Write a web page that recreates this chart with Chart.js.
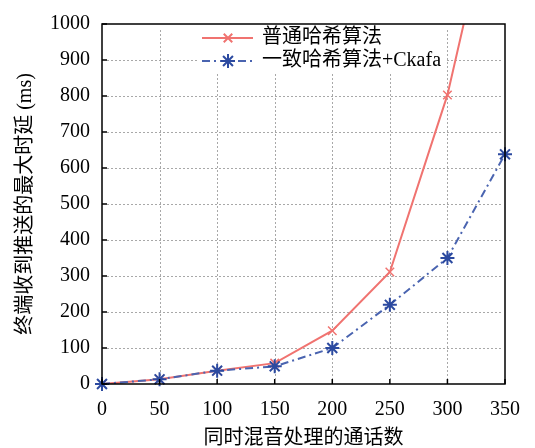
<!DOCTYPE html>
<html>
<head>
<meta charset="utf-8">
<script src="https://cdn.jsdelivr.net/npm/chart.js@4"></script>
<style>
  html, body { margin: 0; padding: 0; background: #fff; }
  #wrap { width: 535px; height: 448px; }
</style>
</head>
<body>
<div id="wrap"><canvas id="delayChart"></canvas></div>
<script>
const calls = [0, 50, 100, 150, 200, 250, 300, 350];
const plainHash = [0, 13, 37, 58, 148, 311, 803, 1500];
const consistentHash = [0, 13, 37, 49, 100, 220, 350, 638];
const seriesNames = ['普通哈希算法', '一致哈希算法+Ckafa'];
const xTitle = '同时混音处理的通话数';
const yTitle = '终端收到推送的最大时延 (ms)';

const FONT = "'Liberation Serif', 'Noto Sans CJK SC', serif";
const RED = '#f07370';
const BLUE = '#4a64b0';
const STAR = '#2c4aa0';

function toPoints(values) {
    return values.map((v, i) => ({ x: calls[i], y: v }));
}

// dotted grid behind the lines
const gridPlugin = {
    id: 'dotGrid',
    beforeDatasetsDraw(chart) {
        const ctx = chart.ctx;
        const a = chart.chartArea;
        const xs = chart.scales.x, ys = chart.scales.y;
        ctx.save();
        ctx.strokeStyle = '#a8a8a8';
        ctx.lineWidth = 1;
        ctx.setLineDash([2, 2]);
        xs.ticks.forEach(t => {
            const px = Math.round(xs.getPixelForValue(t.value)) + 0.5;
            if (px <= a.left + 2 || px >= a.right - 2) return;
            ctx.beginPath();
            ctx.moveTo(px, a.top + 6);
            ctx.lineTo(px, a.bottom - 5);
            ctx.stroke();
        });
        ys.ticks.forEach(t => {
            const py = Math.round(ys.getPixelForValue(t.value)) + 0.5;
            if (py <= a.top + 2 || py >= a.bottom - 2) return;
            ctx.beginPath();
            ctx.moveTo(a.left + 5, py);
            ctx.lineTo(a.right - 3, py);
            ctx.stroke();
        });
        ctx.restore();
    }
};

// legend inside the plot, then box and inward ticks
const framePlugin = {
    id: 'frame',
    afterDraw(chart) {
        const ctx = chart.ctx;
        const a = chart.chartArea;
        const xs = chart.scales.x, ys = chart.scales.y;
        ctx.save();

        // legend
        ctx.fillStyle = '#fff';
        ctx.fillRect(198, 23, 247, 50);
        const rows = [
            { y: 38, color: RED, dash: [], marker: 'crossRot', mColor: RED, r: 6 },
            { y: 61, color: BLUE, dash: [8, 4, 2, 4], marker: 'star', mColor: STAR, r: 7 }
        ];
        rows.forEach((r, i) => {
            ctx.strokeStyle = r.color;
            ctx.lineWidth = 2;
            ctx.setLineDash(r.dash);
            ctx.beginPath();
            ctx.moveTo(202, r.y);
            ctx.lineTo(253, r.y);
            ctx.stroke();
            ctx.setLineDash([]);
            ctx.strokeStyle = r.mColor;
            Chart.helpers.drawPoint(ctx, { pointStyle: r.marker, radius: r.r, borderWidth: 2 }, 228, r.y);
            ctx.fillStyle = '#000';
            ctx.font = '20px ' + FONT;
            ctx.textBaseline = 'middle';
            ctx.textAlign = 'left';
            ctx.fillText(seriesNames[i], 262, r.y);
        });

        ctx.strokeStyle = '#000';
        ctx.lineWidth = 1.5;
        ctx.strokeRect(a.left, a.top, a.right - a.left, a.bottom - a.top);
        ctx.beginPath();
        xs.ticks.forEach(t => {
            const px = xs.getPixelForValue(t.value);
            ctx.moveTo(px, a.bottom);
            ctx.lineTo(px, a.bottom - 5);
        });
        ys.ticks.forEach(t => {
            const py = ys.getPixelForValue(t.value);
            ctx.moveTo(a.left, py);
            ctx.lineTo(a.left + 5, py);
        });
        ctx.stroke();
        ctx.restore();
    }
};

new Chart(document.getElementById('delayChart'), {
    type: 'line',
    data: {
        datasets: [
            {
                label: seriesNames[0],
                data: toPoints(plainHash),
                borderColor: RED,
                borderWidth: 2,
                pointStyle: 'crossRot',
                pointRadius: 6,
                pointBorderColor: RED,
                pointBorderWidth: 1.5,
                tension: 0,
                order: 2
            },
            {
                label: seriesNames[1],
                data: toPoints(consistentHash),
                borderColor: BLUE,
                borderWidth: 2,
                borderDash: [8, 4, 2, 4],
                pointStyle: 'star',
                pointRadius: 7,
                pointBorderColor: STAR,
                pointBorderWidth: 2,
                tension: 0,
                clip: false,
                order: 1
            }
        ]
    },
    options: {
        responsive: true,
        maintainAspectRatio: false,
        animation: false,
        layout: { padding: { left: 2, right: 30, top: 20, bottom: 0 } },
        plugins: {
            legend: { display: false },
            tooltip: { enabled: false }
        },
        scales: {
            x: {
                type: 'linear',
                min: 0,
                max: 350,
                afterFit(axis) { axis.height = 64; },
                ticks: {
                    stepSize: 50,
                    color: '#000',
                    padding: 14,
                    font: { family: FONT, size: 20 }
                },
                grid: { display: false, drawTicks: false },
                border: { display: false },
                title: {
                    display: true,
                    text: xTitle,
                    color: '#000',
                    padding: { top: 0, bottom: -3 },
                    font: { family: FONT, size: 20 }
                }
            },
            y: {
                min: 0,
                max: 1000,
                afterFit(axis) { axis.width = 100; },
                ticks: {
                    stepSize: 100,
                    color: '#000',
                    padding: 12,
                    font: { family: FONT, size: 20 },
                    callback: v => String(v)
                },
                grid: { display: false, drawTicks: false },
                border: { display: false },
                title: {
                    display: true,
                    text: yTitle,
                    color: '#000',
                    padding: { top: 12, bottom: 0 },
                    font: { family: FONT, size: 20 }
                }
            }
        }
    },
    plugins: [gridPlugin, framePlugin]
});
</script>
</body>
</html>
